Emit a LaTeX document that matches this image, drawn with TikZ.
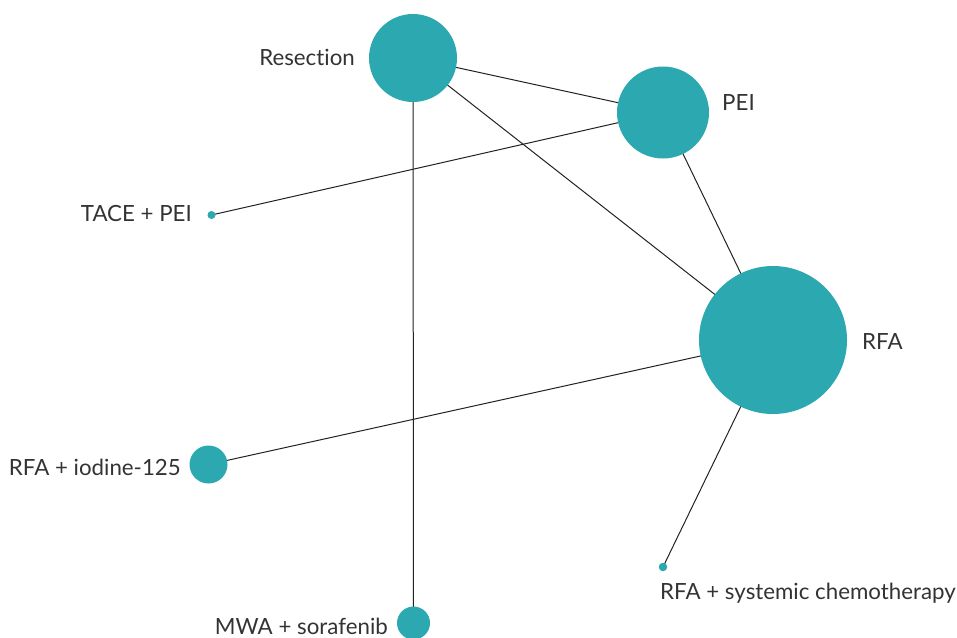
\documentclass[tikz,border=0pt]{standalone}
\usepackage{fontspec}
\setmainfont{Lato}[Ligatures=NoCommon]
\usetikzlibrary{backgrounds}
\definecolor{teal1}{HTML}{2BA8B0}
\definecolor{txt}{HTML}{333333}
\definecolor{edgec}{HTML}{222222}
\tikzset{
  trt/.style={circle, fill=teal1, draw=none, inner sep=0pt, minimum size=#1},
  lbl/.style={inner sep=0pt, text=txt, font=\fontsize{22.3}{25}\selectfont},
  edge/.style={draw=edgec, line width=1pt}
}
\begin{document}
\begin{tikzpicture}[x=1pt,y=-1pt]
\useasboundingbox (0,0) rectangle (957,637);
\node[trt=88pt] (res) at (413,58) {};
\node[trt=92pt] (pei) at (663,112.5) {};
\node[trt=8pt] (tace) at (211.5,215) {};
\node[trt=148pt] (rfa) at (773,340) {};
\node[trt=38pt] (iod) at (208.5,464.5) {};
\node[trt=33pt] (mwa) at (413.5,623) {};
\node[trt=8.5pt] (sys) at (663,567) {};
\node[lbl, anchor=east] (lres) at (355,57) {Resection};
\node[lbl, anchor=west] (lpei) at (722,103) {PEI};
\node[lbl, anchor=east] (ltace) at (192,214) {TACE + PEI};
\node[lbl, anchor=west] (lrfa) at (862,342) {RFA};
\node[lbl, anchor=east] (liod) at (181,467) {RFA + iodine-125};
\node[lbl, anchor=east] (lmwa) at (388,626) {MWA + sorafenib};
\node[lbl, anchor=west] (lsys) at (660,593) {RFA + systemic chemotherapy};
\begin{scope}[on background layer]
\draw[edge] (res.center) -- (pei.center);
\draw[edge] (res.center) -- (rfa.center);
\draw[edge] (res.center) -- (mwa.center);
\draw[edge] (pei.center) -- (tace.center);
\draw[edge] (pei.center) -- (rfa.center);
\draw[edge] (rfa.center) -- (iod.center);
\draw[edge] (rfa.center) -- (sys.center);
\end{scope}
\end{tikzpicture}
\end{document}
